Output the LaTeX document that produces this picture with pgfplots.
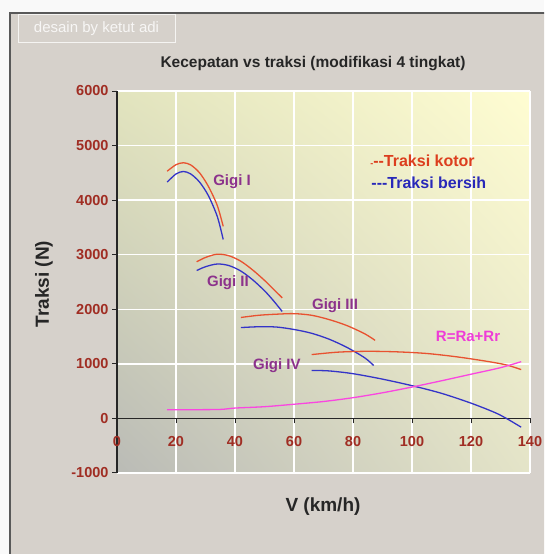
\documentclass[border=0pt]{standalone}
\usepackage{pgfplots}
\pgfplotsset{compat=1.18}
\usetikzlibrary{shadings}
\usepackage{fontspec}
\setmainfont{Liberation Sans}
\definecolor{framebg}{RGB}{214,209,203}
\definecolor{ul}{RGB}{226,228,190}
\definecolor{ur}{RGB}{255,253,210}
\definecolor{ll}{RGB}{186,187,182}
\definecolor{lr}{RGB}{228,228,200}
\definecolor{redl}{RGB}{232,82,48}
\definecolor{bluel}{RGB}{52,52,200}
\definecolor{magl}{RGB}{250,70,225}
\definecolor{gigic}{RGB}{140,50,140}
\definecolor{rtext}{RGB}{238,60,215}
\definecolor{kotor}{RGB}{220,62,30}
\definecolor{bersih}{RGB}{40,40,185}
\definecolor{tickc}{RGB}{160,45,35}
\begin{document}
\begin{tikzpicture}
\useasboundingbox (0pt,0pt) rectangle (544pt,554pt);
\clip (0pt,0pt) rectangle (544pt,554pt);
\fill[white!95!gray] (0pt,0pt) rectangle (544pt,554pt);
\fill[framebg] (10pt,541pt) rectangle (560pt,-10pt);
\draw[line width=1.6pt, black!65] (10pt,-10pt) -- (10pt,541pt) -- (560pt,541pt);
\draw[white!75!framebg, line width=1pt] (18pt,539pt) rectangle (175pt,511pt);
\node[text=white!80!framebg, font=\fontsize{15}{15}\selectfont] at (96.5pt,525pt) {desain by ketut adi};
\begin{axis}[
  at={(117pt,81pt)}, anchor=south west,
  width=413pt, height=382pt, scale only axis,
  xmin=0, xmax=140, ymin=-1000, ymax=6000,
  axis x line*=middle, axis y line*=left,
  axis line style={black!85, line width=1.2pt},
  xtick={0,20,...,140}, ytick={-1000,0,...,6000},
  tick align=outside, major tick length=5pt,
  tick style={black!85, line width=1pt},
  grid=major, grid style={white, line width=1.3pt},
  hide obscured x ticks=false,
  axis background/.style={shade, upper left=ul, upper right=ur, lower left=ll, lower right=lr, draw=gray!60, line width=1pt},
  /pgf/number format/assume math mode=true,
  /pgf/number format/1000 sep={},
  ticklabel style={font=\fontsize{14.5}{14.5}\selectfont\bfseries, text=tickc},
  xticklabel style={yshift=-9pt},
  clip=false,
]
% Gigi I
\addplot[redl, line width=1.3pt, smooth] coordinates {(17,4530) (20,4650) (22.5,4685) (25,4645) (28,4500) (31,4250) (34,3900) (36,3520)};
\addplot[bluel, line width=1.3pt, smooth] coordinates {(17,4330) (20,4480) (22.5,4525) (25,4480) (28,4330) (31,4080) (34,3700) (36,3280)};
% Gigi II
\addplot[redl, line width=1.3pt, smooth] coordinates {(27,2870) (30,2950) (34,3010) (38,2980) (42,2880) (46,2720) (50,2530) (53,2370) (56,2210)};
\addplot[bluel, line width=1.3pt, smooth] coordinates {(27,2710) (30,2780) (34,2830) (38,2800) (42,2700) (46,2540) (50,2340) (53,2160) (56,1960)};
% Gigi III
\addplot[redl, line width=1.3pt, smooth] coordinates {(42,1850) (48,1890) (54,1910) (60,1920) (66,1890) (72,1810) (78,1700) (84,1550) (87.5,1430)};
\addplot[bluel, line width=1.3pt, smooth] coordinates {(42,1665) (48,1680) (54,1675) (60,1630) (66,1560) (72,1450) (78,1300) (84,1110) (87,970)};
% Gigi IV
\addplot[redl, line width=1.3pt, smooth] coordinates {(66,1170) (75,1215) (85,1230) (95,1220) (105,1190) (115,1130) (125,1050) (132,980) (137,895)};
\addplot[bluel, line width=1.3pt, smooth] coordinates {(66,880) (72,870) (80,820) (90,720) (100,600) (110,460) (120,280) (128,110) (132,0) (137,-160)};
% R = Ra + Rr
\addplot[magl, line width=1.3pt, smooth] coordinates {(17,160) (25,160) (35,165) (40,190) (50,215) (60,260) (70,310) (80,380) (90,470) (100,575) (110,690) (120,810) (130,930) (137,1040)};
\node[text=gigic, font=\fontsize{15}{15}\selectfont\bfseries] at (axis cs:39,4333) {Gigi I};
\node[text=gigic, font=\fontsize{15}{15}\selectfont\bfseries] at (axis cs:37.6,2486) {Gigi II};
\node[text=gigic, font=\fontsize{15}{15}\selectfont\bfseries] at (axis cs:73.9,2066) {Gigi III};
\node[text=gigic, font=\fontsize{15}{15}\selectfont\bfseries] at (axis cs:54.2,969) {Gigi IV};
\node[text=rtext, font=\fontsize{15}{15}\selectfont\bfseries] at (axis cs:119,1500) {R=Ra+Rr};
\node[text=kotor, font=\fontsize{16}{16}\selectfont\bfseries, anchor=west, inner sep=0pt] at (axis cs:85.8,4717) {{\fontsize{9}{9}\selectfont-}-{}-Traksi kotor};
\node[text=bersih, font=\fontsize{16}{16}\selectfont\bfseries, anchor=west, inner sep=0pt] at (axis cs:86.2,4315) {-{}-{}-Traksi bersih};
\end{axis}
\node[font=\fontsize{15.5}{15.5}\selectfont\bfseries, text=black!85] at (313pt,490pt) {Kecepatan vs traksi (modifikasi 4 tingkat)};
\node[font=\fontsize{19}{19}\selectfont\bfseries, text=black!85] at (323pt,47pt) {V (km/h)};
\node[font=\fontsize{19}{19}\selectfont\bfseries, text=black!85, rotate=90] at (44pt,270pt) {Traksi (N)};
\end{tikzpicture}
\end{document}
